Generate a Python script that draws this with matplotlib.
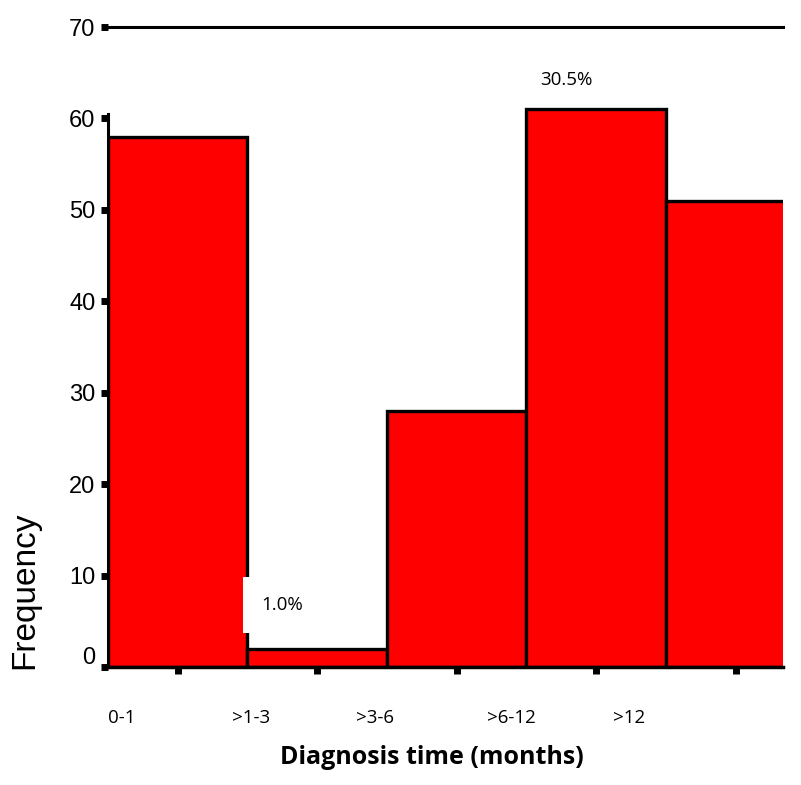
import matplotlib.pyplot as plt
from matplotlib.transforms import ScaledTranslation

categories = ["0-1", ">1-3", ">3-6", ">6-12", ">12"]
frequency = [58, 2, 28, 61, 51]
label_offsets = [0.0, 0.89, 1.78, 2.72, 3.62]
yticks = [0, 10, 20, 30, 40, 50, 60, 70]

fig = plt.figure(figsize=(8.01, 7.85), dpi=100)
ax = fig.add_axes([108 / 801, 118 / 785, 675 / 801, 640 / 785])

xpos = [i + 0.5 for i in range(len(categories))]
ax.bar(xpos, frequency, width=1.0, color="#ff0000", edgecolor="black",
       linewidth=2.4, zorder=2)

ax.set_xlim(0, 4.84)
ax.set_ylim(0, 70)

# top reference line at 70
ax.axhline(70, color="black", linewidth=2.2, zorder=3, clip_on=False)

for s in ["top", "right"]:
    ax.spines[s].set_visible(False)
ax.spines["left"].set_linewidth(2.2)
ax.spines["left"].set_bounds(0, 60.5)
ax.spines["bottom"].set_linewidth(2.5)
ax.spines["bottom"].set_zorder(4)

ax.set_yticks(yticks)
ax.set_yticklabels([str(v) for v in yticks], fontsize=17, family="Liberation Sans")
ax.tick_params(axis="y", direction="out", length=5, width=5, pad=4)
# the "0" label sits a bit higher in the original
lab0 = ax.get_yticklabels()[0]
lab0.set_transform(lab0.get_transform() + ScaledTranslation(0, 12 / 100, fig.dpi_scale_trans))

ax.set_xticks(xpos)
ax.set_xticklabels([])
ax.tick_params(axis="x", direction="out", length=5, width=5)

trans = ax.get_xaxis_transform()
for off, lab in zip(label_offsets, categories):
    ax.text(off, -0.08, lab, transform=trans, ha="left", va="center",
            fontsize=13.5, family="Open Sans")

ax.text(1.1, 6.8, "1.0%", ha="left", va="center", fontsize=13.5,
        family="Open Sans", zorder=5,
        bbox=dict(boxstyle="square,pad=1.0", facecolor="white", edgecolor="none"))
ax.text(3.1, 64.2, "30.5%", ha="left", va="center", fontsize=13.5,
        family="Open Sans", zorder=5)

ax.set_xlabel("Diagnosis time (months)", fontsize=18, fontweight="bold",
              family="Open Sans")
ax.xaxis.set_label_coords(0.48, -0.122)
ax.set_ylabel("Frequency", fontsize=24, family="Liberation Sans")
ax.yaxis.set_label_coords(-0.1, 0.12)

fig.savefig("out.png", dpi=100)
